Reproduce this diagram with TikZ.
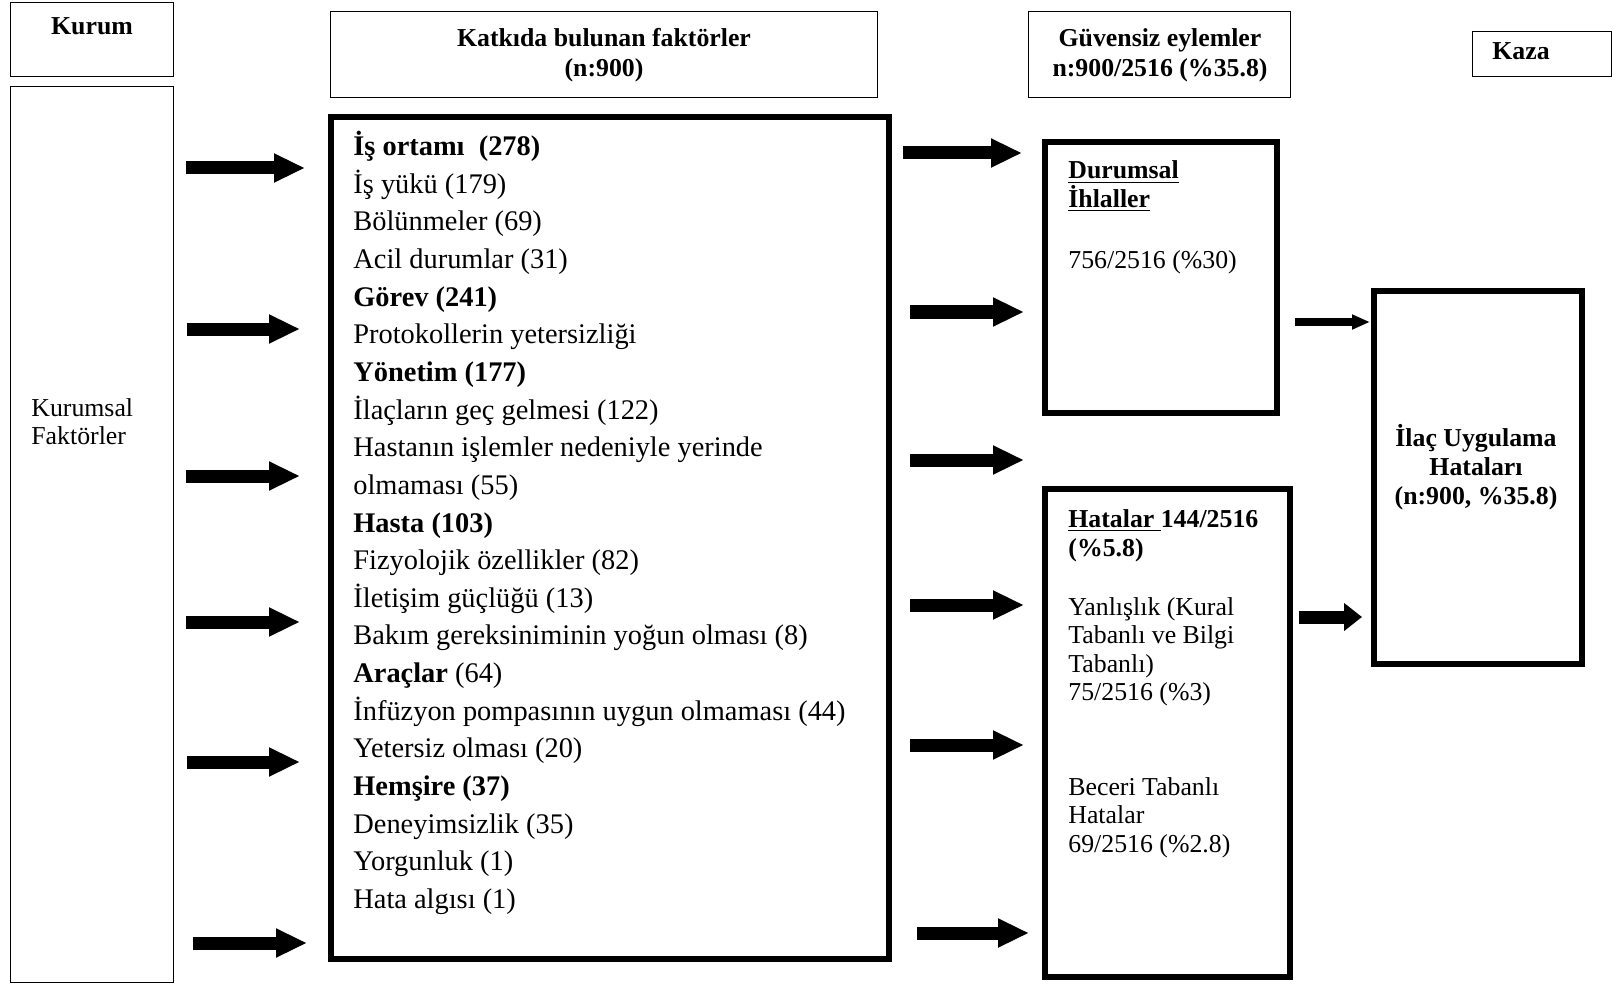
\documentclass[tikz,border=0pt]{standalone}
\usepackage{fontspec}
\setmainfont{Liberation Serif}
\usetikzlibrary{arrows.meta, calc}

\begin{document}
\begin{tikzpicture}[x=0.5pt, y=-0.5pt,
  thinbox/.style={draw, line width=0.7pt, inner sep=0pt},
  thickbox/.style={draw, line width=3pt, inner sep=0pt},
  fatarrow/.style={line width=6.5pt, -{Triangle[length=15.5pt,width=13.5pt]}},
  stubarrow/.style={line width=6.5pt, -{Triangle[length=9pt,width=13.5pt]}},
  slimarrow/.style={line width=4pt, -{Triangle[length=9pt,width=7pt]}},
  lbl/.style={inner sep=0pt, font={\fontsize{12.9}{14.25}\selectfont}, align=left, anchor=base west},
  head/.style={inner sep=0pt, font={\fontsize{12.9}{15.25}\selectfont\bfseries}, align=center, anchor=base}]
\useasboundingbox (0,0) rectangle (1622,984);

\node[thinbox, minimum width=81.3pt, minimum height=36.8pt] (kurum) at (92,39.5) {};
\node[thinbox, minimum width=81.3pt, minimum height=447.8pt] (kf) at (92,534.5) {};
\node[thinbox, minimum width=273.3pt, minimum height=42.8pt] (katki) at (604,54.5) {};
\node[thickbox, minimum width=279pt, minimum height=421pt] (fac) at (610,538) {};
\node[thinbox, minimum width=130.8pt, minimum height=42.8pt] (guv) at (1159.5,54.5) {};
\node[thinbox, minimum width=69.3pt, minimum height=22.3pt] (kaza) at (1542,54) {};
\node[thickbox, minimum width=116pt, minimum height=135.5pt] (dur) at (1161,277.5) {};
\node[thickbox, minimum width=122.5pt, minimum height=244pt] (hat) at (1167.5,733) {};
\node[thickbox, minimum width=104pt, minimum height=186.5pt] (ilac) at (1478,477.5) {};

% multi-line texts sit on the baseline of their last line
\node[head] (kurumtxt) at (92,35) {Kurum};
\node[lbl, font={\fontsize{12.9}{14}\selectfont}] (kftxt) at (31,444) {Kurumsal\\Faktörler};
\node[head] (katkitxt) at (604,77) {Katkıda bulunan faktörler\\(n:900)};
\node[head] (guvtxt) at (1160,77) {Güvensiz eylemler\\n:900/2516 (\%35.8)};
\node[head] (kazatxt) at (1521,59.5) {Kaza};

\node[lbl, font={\fontsize{14.2}{18.825}\selectfont}] (factxt) at (353,908.5) {%
\textbf{İş ortamı\ \ (278)}\\
İş yükü (179)\\
Bölünmeler (69)\\
Acil durumlar (31)\\
\textbf{Görev (241)}\\
Protokollerin yetersizliği\\
\textbf{Yönetim (177)}\\
İlaçların geç gelmesi (122)\\
Hastanın işlemler nedeniyle yerinde\\
olmaması (55)\\
\textbf{Hasta (103)}\\
Fizyolojik özellikler (82)\\
İletişim güçlüğü (13)\\
Bakım gereksiniminin yoğun olması (8)\\
\textbf{Araçlar} (64)\\
İnfüzyon pompasının uygun olmaması (44)\\
Yetersiz olması (20)\\
\textbf{Hemşire (37)}\\
Deneyimsizlik (35)\\
Yorgunluk (1)\\
Hata algısı (1)};

\node[lbl, font={\fontsize{12.9}{14.25}\selectfont\bfseries}] (durtxt) at (1068,207.5) {\underline{Durumsal}\\\underline{İhlaller}};
\node[lbl] (durnum) at (1068,269) {756/2516 (\%30)};
\node[lbl, font={\fontsize{12.9}{14.5}\selectfont\bfseries}] (hattxt) at (1068,556) {\underline{Hatalar\ }144/2516\\(\%5.8)};
\node[lbl] (yanlis) at (1068,700.5) {Yanlışlık (Kural\\Tabanlı ve Bilgi\\Tabanlı)\\75/2516 (\%3)};
\node[lbl] (beceri) at (1068,852) {Beceri Tabanlı\\Hatalar\\69/2516 (\%2.8)};
\node[head, font={\fontsize{12.9}{14.5}\selectfont\bfseries}] (ilactxt) at (1476,504) {İlaç Uygulama\\Hataları\\(n:900, \%35.8)};

\foreach \y/\a/\b in {168/12/23, 329/13/28, 476/12/28, 622/12/28, 762/13/28, 943/19/21}
  \draw[fatarrow] ($(kf.east |- 0,\y)+(\a,0)$) -- ($(fac.west |- 0,\y)-(\b,0)$);

\foreach \y/\a/\b/\t in {153/11/20/dur, 312/18/18/dur, 460/18/18/dur, 605/18/18/hat, 745/18/18/hat, 933/25/13/hat}
  \draw[fatarrow] ($(fac.east |- 0,\y)+(\a,0)$) -- ($(\t.west |- 0,\y)-(\b,0)$);

\draw[slimarrow] ($(dur.east |- 0,322)+(15,0)$) -- ($(ilac.west |- 0,322)-(1,0)$);
\draw[stubarrow] ($(hat.east |- 0,617)+(6,0)$) -- ($(ilac.west |- 0,617)-(9,0)$);
\end{tikzpicture}
\end{document}
